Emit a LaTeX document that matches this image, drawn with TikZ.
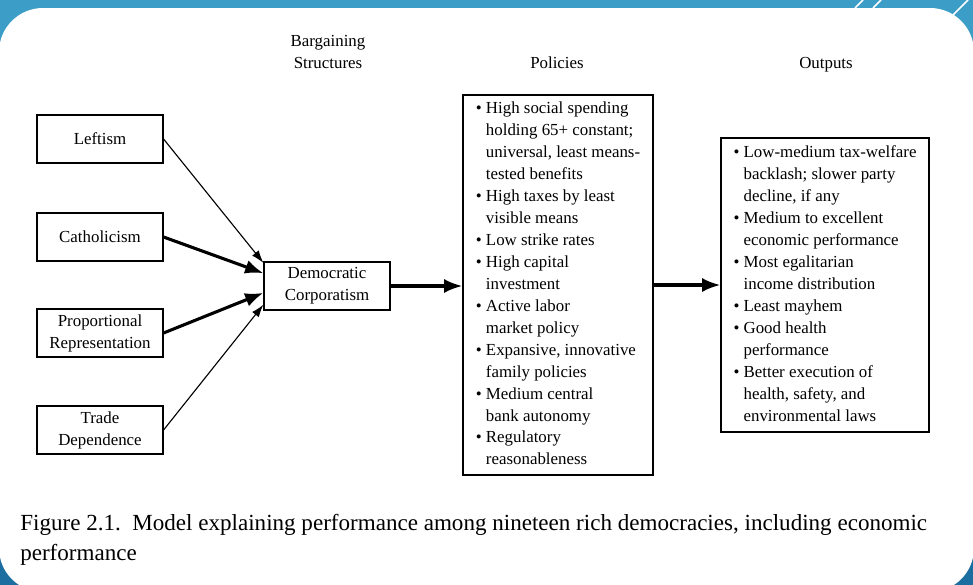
\documentclass[tikz,border=0pt]{standalone}
\usepackage{fontspec}
\setmainfont{Liberation Serif}
\usepackage{xcolor}
\usepackage{tikz}
\usetikzlibrary{positioning,calc,arrows.meta}

\definecolor{barblue}{RGB}{60,157,198}
\definecolor{deepblue}{RGB}{28,110,160}
\newcommand{\boxfont}{\fontsize{12}{15.6}\selectfont}
\newcommand{\capfont}{\fontsize{16.4}{21.3}\selectfont}

\begin{document}
\begin{tikzpicture}[x=0.025cm, y=-0.025cm,
  box/.style={draw, line width=0.8pt, minimum width=3.15cm, minimum height=1.2cm,
    align=center, font=\boxfont, inner sep=1pt},
  listbox/.style={draw, line width=0.8pt, font=\boxfont, inner sep=0pt},
  head/.style={font=\boxfont, align=center},
  thinarr/.style={-{Latex[length=9pt,width=6pt]}, line width=0.8pt},
  thickarr/.style={-{Latex[length=13pt,width=10pt]}, line width=2.2pt}]
  \useasboundingbox (0,0) rectangle (973,585);
  % slide background
  \fill [barblue] (0,0) rectangle (973,300);
  \fill [deepblue] (0,300) rectangle (973,585);
  \fill [white, rounded corners=1.1cm] (-1,8) rectangle (974,592);
  \draw [white, line width=1.2pt] (855,8) -- (863,0) (873,8) -- (881,0) (953,15) -- (968,0);

  % column heads
  \node[head] (hbarg) at (328,52) {Bargaining\\Structures};
  \node[head] (hpol) at (557,63) {Policies};
  \node[head] (hout) at (826,65) {Outputs};

  % causes
  \node[box] (left) at (100,139) {Leftism};
  \node[box] (cath) at (100,237) {Catholicism};
  \node[box] (prop) at (100,333) {Proportional\\Representation};
  \node[box] (trade) at (100,430) {Trade\\Dependence};
  \node[box] (dc) at (327,286) {Democratic\\Corporatism};

  \node[listbox, minimum width=4.75cm, minimum height=9.5cm] (pol) at (558,285) {%
    \begin{tabular}{@{}l@{\ }l@{}}
      \textbullet & High social spending\\
      & holding 65+ constant;\\
      & universal, least means-\\
      & tested benefits\\
      \textbullet & High taxes by least\\
      & visible means\\
      \textbullet & Low strike rates\\
      \textbullet & High capital\\
      & investment\\
      \textbullet & Active labor\\
      & market policy\\
      \textbullet & Expansive, innovative\\
      & family policies\\
      \textbullet & Medium central\\
      & bank autonomy\\
      \textbullet & Regulatory\\
      & reasonableness
    \end{tabular}};

  \node[listbox, minimum width=5.2cm, minimum height=7.35cm] (out) at (825,285) {%
    \begin{tabular}{@{}l@{\ }l@{}}
      \textbullet & Low-medium tax-welfare\\
      & backlash; slower party\\
      & decline, if any\\
      \textbullet & Medium to excellent\\
      & economic performance\\
      \textbullet & Most egalitarian\\
      & income distribution\\
      \textbullet & Least mayhem\\
      \textbullet & Good health\\
      & performance\\
      \textbullet & Better execution of\\
      & health, safety, and\\
      & environmental laws
    \end{tabular}};

  % arrows
  \draw[thinarr] (left.east) -- ($(dc.north west)!0.03!(dc.south west)$);
  \draw[thickarr] (cath.east) -- ($(dc.north west)!0.24!(dc.south west)$);
  \draw[thickarr] (prop.east) -- ($(dc.north west)!0.64!(dc.south west)$);
  \draw[thinarr] (trade.east) -- ($(dc.north west)!0.88!(dc.south west)$);
  \draw[thickarr] (dc.east) -- (dc.east -| pol.west);
  \draw[thickarr] (pol.east |- out.west) -- (out.west);

  \node[anchor=north west, align=left, font=\capfont, inner sep=0pt] (cap) at (20,514)
    {Figure 2.1.\ \ Model explaining performance among nineteen rich democracies, including economic\\performance};
\end{tikzpicture}
\end{document}
